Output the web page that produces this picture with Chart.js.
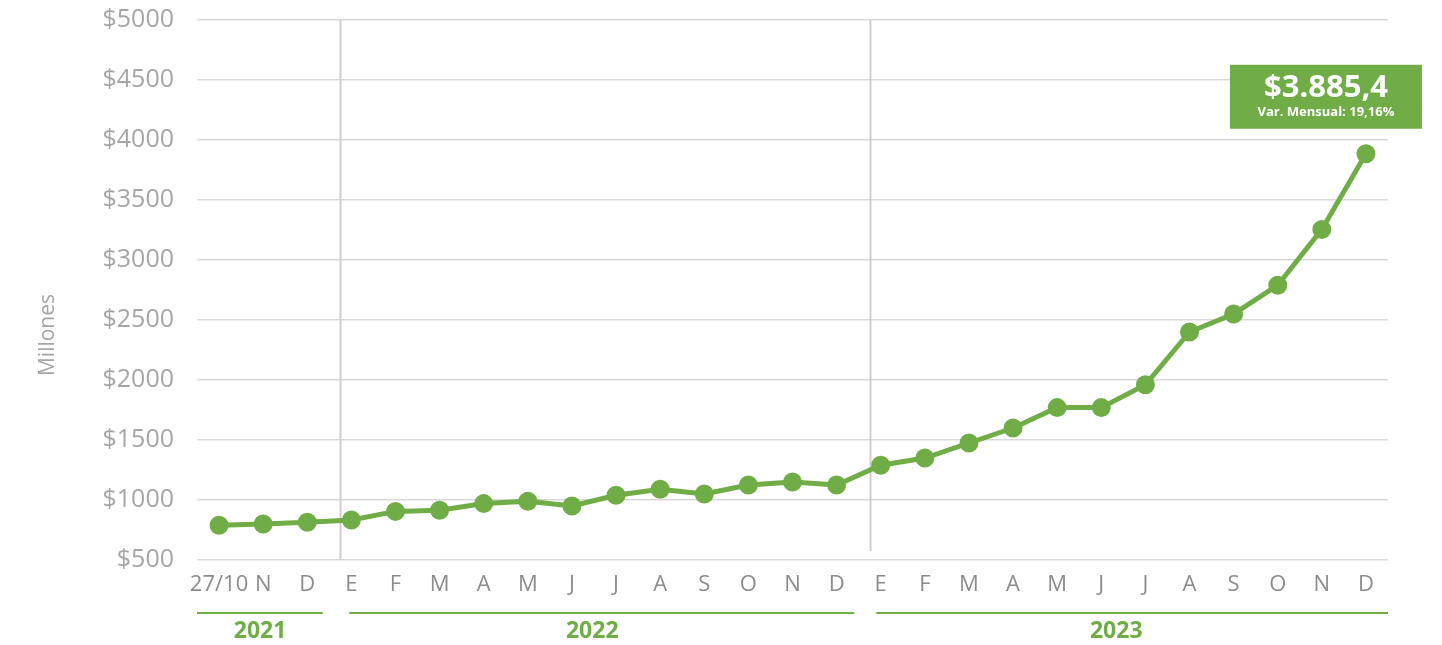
<!DOCTYPE html>
<html>
<head>
<meta charset="utf-8">
<script src="https://cdn.jsdelivr.net/npm/chart.js@4/dist/chart.umd.min.js"></script>
<style>
  html, body { margin: 0; padding: 0; background: #fff; }
  #wrap { width: 1442px; height: 645px; }
</style>
</head>
<body>
<div id="wrap"><canvas id="myChart"></canvas></div>
<script>
const labels = ['27/10', 'N', 'D',
  'E', 'F', 'M', 'A', 'M', 'J', 'J', 'A', 'S', 'O', 'N', 'D',
  'E', 'F', 'M', 'A', 'M', 'J', 'J', 'A', 'S', 'O', 'N', 'D'];

// millones de $
const values = [790, 800, 815, 833,
  905, 915, 970, 990, 950, 1040, 1090, 1050, 1125, 1150, 1125,
  1290, 1350, 1475, 1600, 1770, 1770, 1960, 2400, 2550, 2790, 3255, 3885.4];

const years = ['2021', '2022', '2023'];
const yearFrom = [-0.5, 2.95, 14.9];   // category index units
const yearTo = [2.35, 14.4, 26.5];
const yearMid = [0.93, 8.46, 20.34];
const dividers = [2.75, 14.75];

const lastLabel = '$3.885,4';
const lastSub = 'Var. Mensual: 19,16%';

const GREEN = '#70AD47';
const FONT = "'Open Sans', sans-serif";

function xAt(scale, v) {
  const i = Math.floor(v);
  const a = scale.getPixelForValue(i);
  const b = scale.getPixelForValue(i + 1);
  return a + (b - a) * (v - i);
}

const extras = {
  id: 'extras',
  beforeDatasetsDraw(chart) {
    const ctx = chart.ctx, x = chart.scales.x, area = chart.chartArea;
    ctx.save();
    ctx.strokeStyle = '#d3cfc8';
    ctx.lineWidth = 2;
    dividers.forEach(function (d, i) {
      const px = Math.round(xAt(x, d)) + 0.5;
      ctx.beginPath();
      ctx.moveTo(px, area.top);
      ctx.lineTo(px, i === 0 ? area.bottom : area.bottom - 9);
      ctx.stroke();
    });
    ctx.restore();
  },
  afterDraw(chart) {
    const ctx = chart.ctx, x = chart.scales.x, y = chart.scales.y;
    ctx.save();
    // years
    years.forEach(function (yr, i) {
      const a = xAt(x, yearFrom[i]), b = xAt(x, yearTo[i]);
      ctx.strokeStyle = GREEN;
      ctx.lineWidth = 2;
      ctx.beginPath();
      ctx.moveTo(a, 613);
      ctx.lineTo(b, 613);
      ctx.stroke();
      ctx.fillStyle = GREEN;
      ctx.font = 'bold 23px ' + FONT;
      ctx.textAlign = 'center';
      ctx.textBaseline = 'middle';
      ctx.fillText(yr, xAt(x, yearMid[i]), 631);
    });
    // axis title
    ctx.translate(48, 335);
    ctx.rotate(-Math.PI / 2);
    ctx.fillStyle = '#a6a6a6';
    ctx.font = '21px ' + FONT;
    ctx.textAlign = 'center';
    ctx.textBaseline = 'middle';
    ctx.fillText('Millones', 0, 0);
    ctx.restore();

    // last value box
    const n = values.length - 1;
    const px = x.getPixelForValue(n), py = y.getPixelForValue(values[n]);
    const w = 192, h = 64;
    const bx = px - 136, by = py - 25 - h;
    ctx.save();
    ctx.fillStyle = GREEN;
    ctx.fillRect(bx, by, w, h);
    ctx.fillStyle = '#fff';
    ctx.textAlign = 'center';
    ctx.textBaseline = 'middle';
    ctx.font = 'bold 31px ' + FONT;
    ctx.fillText(lastLabel, bx + w / 2, by + 23);
    ctx.font = 'bold 13px ' + FONT;
    ctx.fillText(lastSub, bx + w / 2, by + 48);
    ctx.restore();
  }
};

const config = {
  type: 'line',
  data: {
    labels: labels,
    datasets: [{
      data: values,
      borderColor: GREEN,
      backgroundColor: GREEN,
      borderWidth: 5,
      pointRadius: 7,
      pointHoverRadius: 7,
      tension: 0
    }]
  },
  options: {
    responsive: true,
    maintainAspectRatio: false,
    animation: false,
    layout: { padding: { top: 20, right: 54, bottom: 0, left: 0 } },
    plugins: {
      legend: { display: false },
      tooltip: { enabled: false }
    },
    scales: {
      x: {
        offset: true,
        grid: { display: false },
        border: { display: false },
        ticks: {
          color: '#8c8c8c',
          font: { family: FONT, size: 22 },
          padding: 4,
          maxRotation: 0,
          autoSkip: false
        },
        afterFit: function (s) { s.height = 85; }
      },
      y: {
        min: 500,
        max: 5000,
        grid: { color: '#d9d9d9', lineWidth: 1.5, drawTicks: false },
        border: { display: false },
        ticks: {
          stepSize: 500,
          color: '#a6a6a6',
          font: { family: FONT, size: 25 },
          padding: 23,
          callback: function (v) { return '$' + v; }
        },
        afterFit: function (s) {
          s.width = 197;
          s.paddingTop = 0;
          s.paddingBottom = 0;
        }
      }
    }
  },
  plugins: [extras]
};

var myChart = new Chart(document.getElementById('myChart'), config);
</script>
</body>
</html>
